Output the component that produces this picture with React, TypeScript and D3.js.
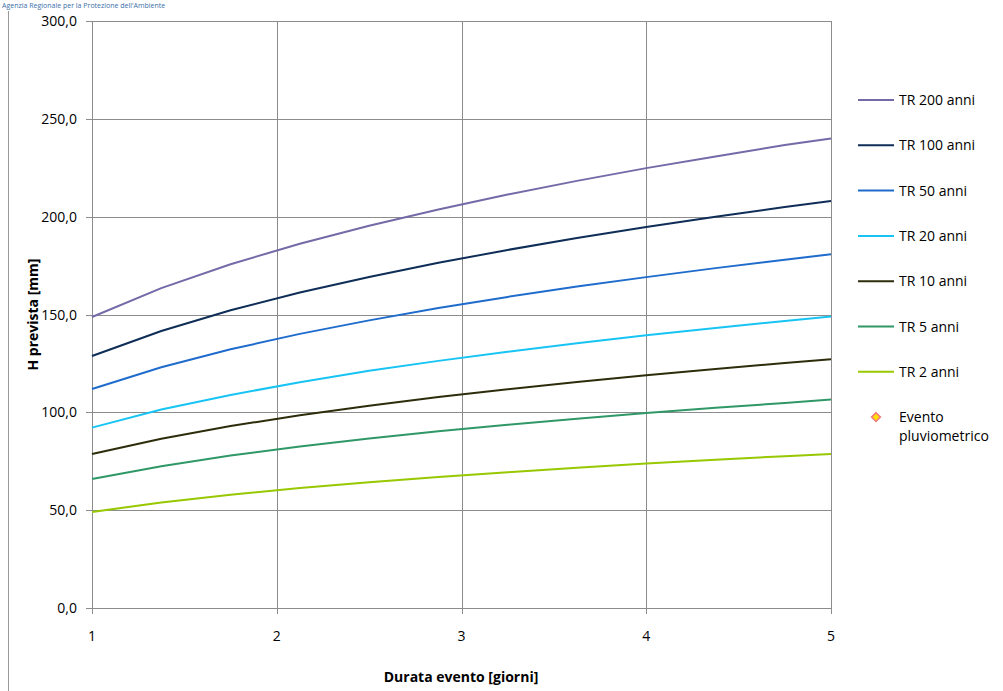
import React from "react";
import * as d3 from "d3";

const durations = [1, 1.375, 1.75, 2.125, 2.5, 2.875, 3.25, 3.625, 4, 4.375, 4.75, 5];
const tr200 = [148.7, 163.5, 175.7, 186.2, 195.4, 203.7, 211.3, 218.3, 224.8, 230.8, 236.6, 240.0];
const tr100 = [128.8, 141.6, 152.2, 161.2, 169.2, 176.4, 183.0, 189.1, 194.7, 200.0, 204.9, 208.0];
const tr50 = [111.9, 123.0, 132.2, 140.1, 147.0, 153.3, 159.0, 164.3, 169.1, 173.7, 178.0, 180.8];
const tr20 = [92.2, 101.4, 108.9, 115.4, 121.2, 126.3, 131.0, 135.3, 139.4, 143.1, 146.7, 149.0];
const tr10 = [78.7, 86.5, 93.0, 98.5, 103.4, 107.8, 111.8, 115.5, 119.0, 122.2, 125.2, 127.1];
const tr5 = [65.9, 72.5, 77.9, 82.5, 86.6, 90.3, 93.6, 96.7, 99.6, 102.3, 104.8, 106.5];
const tr2 = [49.1, 53.9, 57.9, 61.3, 64.3, 67.0, 69.4, 71.7, 73.8, 75.8, 77.6, 78.7];

const seriesNames = ["TR 200 anni", "TR 100 anni", "TR 50 anni", "TR 20 anni", "TR 10 anni", "TR 5 anni", "TR 2 anni"];
const seriesValues = [tr200, tr100, tr50, tr20, tr10, tr5, tr2];
const seriesColors = ["#7669a8", "#0e2d57", "#1f6ccc", "#17c4f4", "#2d2d0c", "#2f9866", "#97c800"];
const yTicks = [0, 50, 100, 150, 200, 250, 300];
const xTicks = [1, 2, 3, 4, 5];

const FONT = "'Open Sans', 'Noto Sans', sans-serif";
const FS = 14;

export default function App() {
  const left = 92, right = 831, top = 21, bottom = 608;
  const x = d3.scaleLinear().domain([1, 5]).range([left, right]);
  const y = d3.scaleLinear().domain([0, 300]).range([bottom, top]);
  const line = d3
    .line<number>()
    .x((_, i) => x(durations[i]))
    .y((v) => y(v));
  const fmt = (v: number) => v.toFixed(1).replace(".", ",");
  const legendX = 858;
  const legendY0 = 100;
  const legendStep = 45.3;

  return (
    <svg
      width={1003}
      height={691}
      style={{ position: "absolute", left: 0, top: 0, background: "#fff" }}
      fontFamily={FONT}
    >
      <rect x={0} y={0} width={1003} height={691} fill="#fff" />
      <text x={2} y={8} fontSize={7} fill="#3b6fa8">
        Agenzia Regionale per la Protezione dell'Ambiente
      </text>
      <line x1={8.5} x2={8.5} y1={11} y2={691} stroke="#999" strokeWidth={1} />

      {/* grid */}
      {yTicks.map((t) => (
        <line key={"gy" + t} x1={left - 6} x2={right} y1={Math.round(y(t)) + 0.5} y2={Math.round(y(t)) + 0.5} stroke="#8c8c8c" />
      ))}
      {xTicks.map((t) => (
        <line key={"gx" + t} x1={Math.round(x(t)) + 0.5} x2={Math.round(x(t)) + 0.5} y1={top} y2={bottom + 6} stroke="#8c8c8c" />
      ))}

      {/* y tick labels */}
      {yTicks.map((t) => (
        <text key={"ty" + t} x={77} y={y(t) + 5} fontSize={FS} textAnchor="end" fill="#000">
          {fmt(t)}
        </text>
      ))}
      {xTicks.map((t) => (
        <text key={"tx" + t} x={x(t)} y={641} fontSize={FS} textAnchor="middle" fill="#000">
          {t}
        </text>
      ))}

      {/* series */}
      {seriesValues.map((vals, i) => (
        <path key={seriesNames[i]} d={line(vals) || ""} fill="none" stroke={seriesColors[i]} strokeWidth={2} />
      ))}

      {/* axis titles */}
      <text
        transform={`translate(38,${(top + bottom) / 2}) rotate(-90)`}
        fontSize={FS}
        fontWeight="bold"
        textAnchor="middle"
      >
        H prevista [mm]
      </text>
      <text x={461} y={682} fontSize={FS} fontWeight="bold" textAnchor="middle">
        Durata evento [giorni]
      </text>

      {/* legend */}
      {seriesNames.map((n, i) => {
        const ly = legendY0 + i * legendStep;
        return (
          <g key={"lg" + n}>
            <line x1={legendX} x2={legendX + 36} y1={ly} y2={ly} stroke={seriesColors[i]} strokeWidth={2} />
            <text x={899} y={ly + 5} fontSize={FS}>
              {n}
            </text>
          </g>
        );
      })}
      <path
        d={d3.symbol(d3.symbolDiamond2, 50)() || ""}
        transform={`translate(876,${legendY0 + 7 * legendStep})`}
        fill="#ffe000"
        stroke="#f27a7a"
        strokeWidth={1.5}
      />
      <text x={899} y={legendY0 + 7 * legendStep + 5} fontSize={FS}>
        Evento
      </text>
      <text x={899} y={legendY0 + 7 * legendStep + 24} fontSize={FS}>
        pluviometrico
      </text>
    </svg>
  );
}
